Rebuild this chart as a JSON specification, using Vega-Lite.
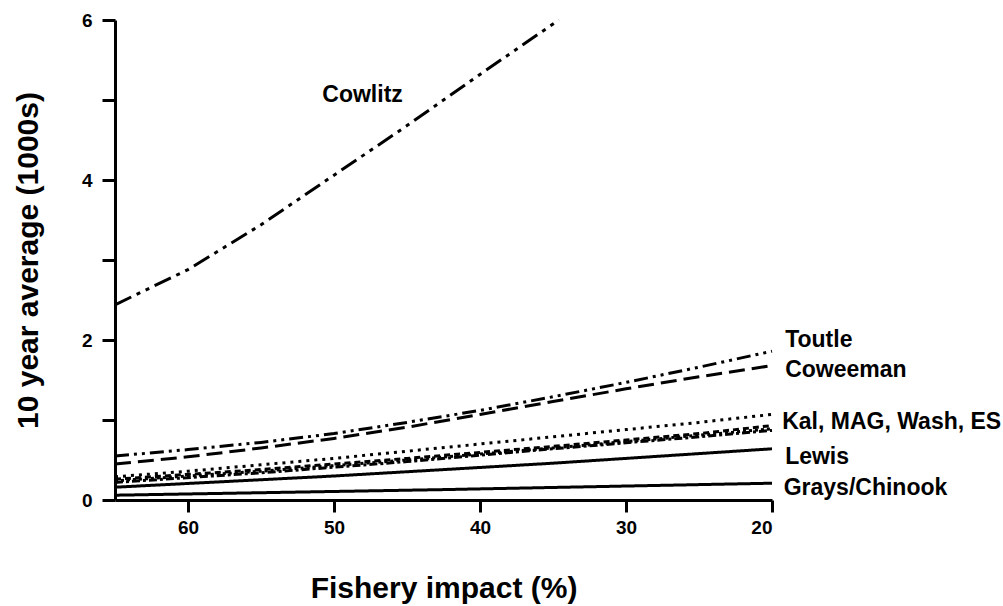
{
  "$schema": "https://vega.github.io/schema/vega-lite/v6.json",
  "width": 657,
  "height": 480,
  "autosize": "none",
  "padding": {"left": 115, "top": 20, "right": 231, "bottom": 106},
  "background": "white",
  "config": {
    "view": {"stroke": null},
    "font": "Liberation Sans",
    "axis": {
      "domainColor": "black", "domainWidth": 3, "tickColor": "black", "tickWidth": 3, "tickSize": 12,
      "labelFont": "Liberation Sans", "labelFontWeight": "bold", "labelFontSize": 19, "labelColor": "black",
      "titleFont": "Liberation Sans", "titleFontWeight": "bold", "titleFontSize": 30, "titleColor": "black",
      "grid": false
    }
  },
  "datasets": {
    "curves": [
      {"river": "Cowlitz", "impact": 65, "abund": 2.44},
      {"river": "Cowlitz", "impact": 60, "abund": 2.88},
      {"river": "Cowlitz", "impact": 55, "abund": 3.44},
      {"river": "Cowlitz", "impact": 50, "abund": 4.06},
      {"river": "Cowlitz", "impact": 45, "abund": 4.68},
      {"river": "Cowlitz", "impact": 40, "abund": 5.32},
      {"river": "Cowlitz", "impact": 35, "abund": 5.95},
      {"river": "Cowlitz", "impact": 34.6, "abund": 6.0},
      {"river": "Toutle", "impact": 65, "abund": 0.55},
      {"river": "Toutle", "impact": 60, "abund": 0.63},
      {"river": "Toutle", "impact": 55, "abund": 0.72},
      {"river": "Toutle", "impact": 50, "abund": 0.83},
      {"river": "Toutle", "impact": 45, "abund": 0.97},
      {"river": "Toutle", "impact": 40, "abund": 1.12},
      {"river": "Toutle", "impact": 35, "abund": 1.29},
      {"river": "Toutle", "impact": 30, "abund": 1.47},
      {"river": "Toutle", "impact": 25, "abund": 1.66},
      {"river": "Toutle", "impact": 20, "abund": 1.86},
      {"river": "Coweeman", "impact": 65, "abund": 0.45},
      {"river": "Coweeman", "impact": 60, "abund": 0.54},
      {"river": "Coweeman", "impact": 55, "abund": 0.65},
      {"river": "Coweeman", "impact": 50, "abund": 0.77},
      {"river": "Coweeman", "impact": 45, "abund": 0.91},
      {"river": "Coweeman", "impact": 40, "abund": 1.07},
      {"river": "Coweeman", "impact": 35, "abund": 1.23},
      {"river": "Coweeman", "impact": 30, "abund": 1.39},
      {"river": "Coweeman", "impact": 25, "abund": 1.54},
      {"river": "Coweeman", "impact": 20, "abund": 1.68},
      {"river": "Kalama", "impact": 65, "abund": 0.29},
      {"river": "Kalama", "impact": 60, "abund": 0.36},
      {"river": "Kalama", "impact": 55, "abund": 0.44},
      {"river": "Kalama", "impact": 50, "abund": 0.52},
      {"river": "Kalama", "impact": 45, "abund": 0.61},
      {"river": "Kalama", "impact": 40, "abund": 0.70},
      {"river": "Kalama", "impact": 35, "abund": 0.79},
      {"river": "Kalama", "impact": 30, "abund": 0.88},
      {"river": "Kalama", "impact": 25, "abund": 0.97},
      {"river": "Kalama", "impact": 20, "abund": 1.07},
      {"river": "MAG", "impact": 65, "abund": 0.26},
      {"river": "MAG", "impact": 55, "abund": 0.38},
      {"river": "MAG", "impact": 45, "abund": 0.52},
      {"river": "MAG", "impact": 35, "abund": 0.67},
      {"river": "MAG", "impact": 25, "abund": 0.83},
      {"river": "MAG", "impact": 20, "abund": 0.93},
      {"river": "Washougal", "impact": 65, "abund": 0.24},
      {"river": "Washougal", "impact": 55, "abund": 0.36},
      {"river": "Washougal", "impact": 45, "abund": 0.50},
      {"river": "Washougal", "impact": 35, "abund": 0.65},
      {"river": "Washougal", "impact": 25, "abund": 0.81},
      {"river": "Washougal", "impact": 20, "abund": 0.89},
      {"river": "ES", "impact": 65, "abund": 0.22},
      {"river": "ES", "impact": 55, "abund": 0.34},
      {"river": "ES", "impact": 45, "abund": 0.48},
      {"river": "ES", "impact": 35, "abund": 0.64},
      {"river": "ES", "impact": 25, "abund": 0.79},
      {"river": "ES", "impact": 20, "abund": 0.87},
      {"river": "Lewis", "impact": 65, "abund": 0.16},
      {"river": "Lewis", "impact": 50, "abund": 0.30},
      {"river": "Lewis", "impact": 35, "abund": 0.46},
      {"river": "Lewis", "impact": 20, "abund": 0.64},
      {"river": "Grays/Chinook", "impact": 65, "abund": 0.06},
      {"river": "Grays/Chinook", "impact": 42.5, "abund": 0.13},
      {"river": "Grays/Chinook", "impact": 20, "abund": 0.21}
    ],
    "labels": [
      {"label": "Cowlitz", "impact": 50.8, "abund": 5.06},
      {"label": "Toutle", "impact": 19.1, "abund": 2.0},
      {"label": "Coweeman", "impact": 19.1, "abund": 1.62},
      {"label": "Kal, MAG, Wash, ES", "impact": 19.3, "abund": 0.97},
      {"label": "Lewis", "impact": 19.1, "abund": 0.54},
      {"label": "Grays/Chinook", "impact": 19.2, "abund": 0.15}
    ]
  },
  "layer": [
    {
      "data": {"name": "curves"},
      "mark": {"type": "line", "color": "black", "strokeWidth": 3, "strokeCap": "butt"},
      "encoding": {
        "x": {
          "field": "impact", "type": "quantitative",
          "scale": {"domain": [20, 65], "reverse": true, "nice": false, "zero": false},
          "axis": {"title": "Fishery impact (%)", "values": [60, 50, 40, 30, 20], "format": "d", "labelPadding": 6, "titlePadding": 36}
        },
        "y": {
          "field": "abund", "type": "quantitative",
          "scale": {"domain": [0, 6], "nice": false},
          "axis": {"title": "10 year average (1000s)", "values": [0, 1, 2, 3, 4, 5, 6], "tickSize": 13,
                   "labelExpr": "datum.value % 2 == 0 ? format(datum.value, 'd') : ''", "labelPadding": 10, "titlePadding": 38}
        },
        "detail": {"field": "river"},
        "strokeDash": {
          "field": "river", "type": "nominal", "legend": null,
          "scale": {
            "domain": ["Cowlitz", "Toutle", "Coweeman", "Kalama", "MAG", "Washougal", "ES", "Lewis", "Grays/Chinook"],
            "range": [[18, 6, 4, 6, 4, 6], [14, 5, 3, 5, 3, 5], [16, 7], [3, 5], [6, 4], [3, 3], [8, 3, 3, 3], [1, 0], [1, 0]]
          }
        }
      }
    },
    {
      "data": {"name": "labels"},
      "mark": {"type": "text", "align": "left", "baseline": "middle", "font": "Liberation Sans", "fontWeight": "bold", "fontSize": 23, "color": "black"},
      "encoding": {
        "x": {"field": "impact", "type": "quantitative"},
        "y": {"field": "abund", "type": "quantitative"},
        "text": {"field": "label"}
      }
    }
  ]
}
